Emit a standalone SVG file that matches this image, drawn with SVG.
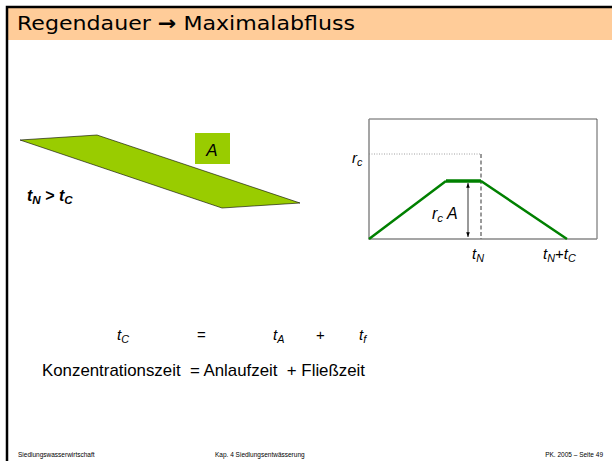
<svg xmlns="http://www.w3.org/2000/svg" width="612" height="461" viewBox="0 0 612 461">
<defs>
<style>
text{font-family:"Liberation Sans",Arial,sans-serif;fill:#000}
.it{font-style:italic}
.sub{font-size:72%}
.foot{font-size:6.5px}
.title{font-family:"DejaVu Sans",sans-serif;font-size:20px}
.pre{white-space:pre}
</style>
<marker id="ah" viewBox="0 0 8 8" refX="8" refY="4" markerWidth="6" markerHeight="6" orient="auto-start-reverse"><path d="M0,1 L8,4 L0,7 z" fill="#000"/></marker>
</defs>
<rect x="0" y="0" width="612" height="461" fill="#fff"/>
<g id="header">
<rect x="8" y="8" width="604" height="32" fill="#FFCC99"/>
<path d="M7,461 V7 H612" fill="none" stroke="#000" stroke-width="2.5"/>
<text x="17" y="30" class="title" textLength="338" lengthAdjust="spacingAndGlyphs">Regendauer <tspan font-weight="bold">→</tspan> Maximalabfluss</text>
</g>
<g id="catchment">
<polygon points="20,140 97,135 300,203 222,208" fill="#99CC00" stroke="#000" stroke-width="0.6"/>
<rect x="195" y="133" width="35" height="31" fill="#99CC00"/>
<text x="212" y="156" font-size="17" class="it" text-anchor="middle">A</text>
<text x="27" y="201" font-size="16" font-weight="bold" class="it">t<tspan class="sub" dy="3">N</tspan><tspan dy="-3"> &gt; t</tspan><tspan class="sub" dy="3">C</tspan></text>
</g>
<g id="chart">
<path d="M369,119 H597 V239" fill="none" stroke="#333" stroke-width="0.8"/>
<path d="M369,119 V239 H597" fill="none" stroke="#888" stroke-width="1.5"/>
<path d="M369,154 H481" fill="none" stroke="#888" stroke-width="0.8" stroke-dasharray="1,1.5"/>
<path d="M481,154 V239" fill="none" stroke="#000" stroke-width="0.8" stroke-dasharray="4,2.5"/>
<path d="M369,239 L446,181 M481,181 L567,239" fill="none" stroke="#008000" stroke-width="2.5"/>
<path d="M446,181 H481" fill="none" stroke="#008000" stroke-width="3.5"/>
<path d="M468,183 V237" fill="none" stroke="#000" stroke-width="0.8" marker-start="url(#ah)" marker-end="url(#ah)"/>
<text x="352" y="163" font-size="15" class="it">r<tspan class="sub" dy="3">c</tspan></text>
<text x="432" y="219" font-size="16" class="it">r<tspan class="sub" dy="3">c</tspan><tspan dy="-3"> A</tspan></text>
<text x="472" y="259" font-size="15" class="it">t<tspan class="sub" dy="3">N</tspan></text>
<text x="543" y="259" font-size="15" class="it">t<tspan class="sub" dy="3">N</tspan><tspan dy="-3" font-style="normal">+</tspan>t<tspan class="sub" dy="3">C</tspan></text>
</g>
<g id="formula">
<text x="117" y="340" font-size="15" class="it">t<tspan class="sub" dy="3">C</tspan></text>
<text x="197" y="340" font-size="15">=</text>
<text x="273" y="340" font-size="15" class="it">t<tspan class="sub" dy="3">A</tspan></text>
<text x="316" y="340" font-size="15">+</text>
<text x="359" y="340" font-size="15" class="it">t<tspan class="sub" dy="3">f</tspan></text>
<text x="42" y="376" font-size="17" class="pre" textLength="323" lengthAdjust="spacingAndGlyphs">Konzentrationszeit  = Anlaufzeit  + Fließzeit</text>
</g>
<g id="footer">
<text x="18" y="457" class="foot">Siedlungswasserwirtschaft</text>
<text x="215" y="457" class="foot">Kap. 4  Siedlungsentwässerung</text>
<text x="603" y="457" class="foot" text-anchor="end">PK. 2005 – Seite 49</text>
</g>
</svg>
